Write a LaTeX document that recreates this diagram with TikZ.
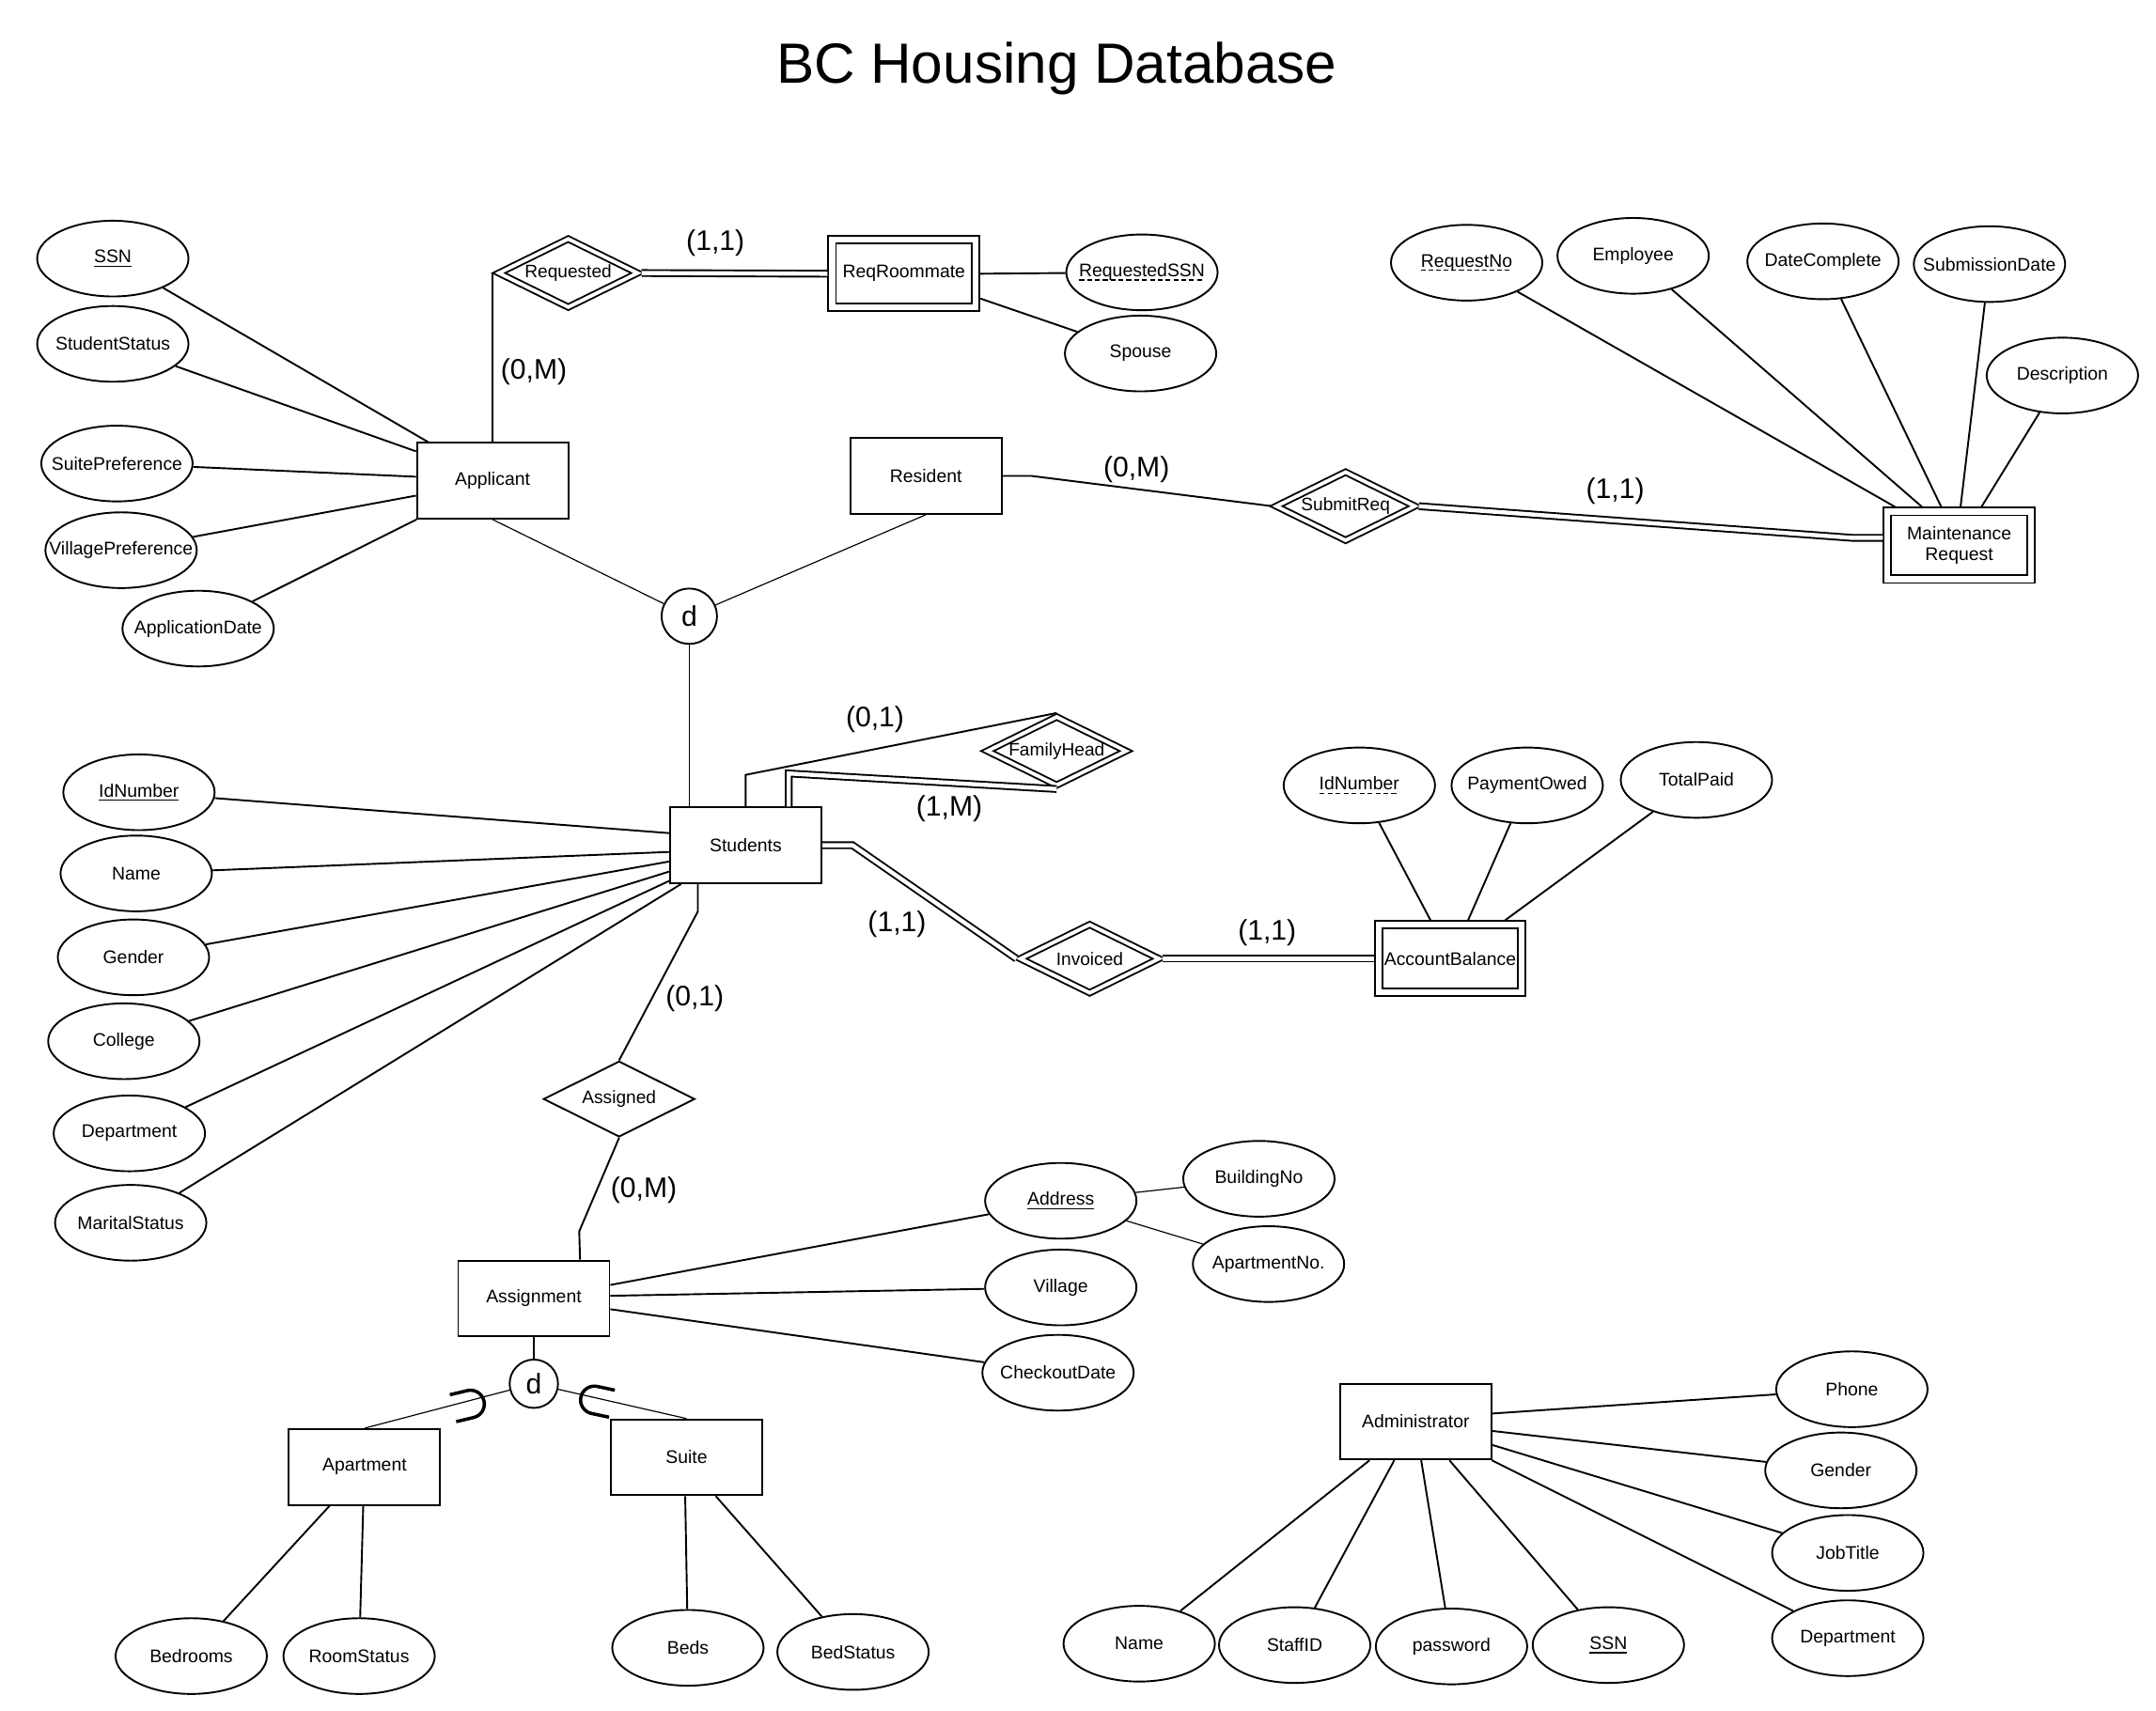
\documentclass[tikz,border=0pt]{standalone}
\usepackage{fontspec}
\setmainfont{Liberation Sans}
\usetikzlibrary{shapes.geometric}
\newcommand\attrsize{\fontsize{13.2}{15.5}\selectfont}
\newcommand\relsize{\fontsize{13}{15}\selectfont}
\newcommand\cardsize{\fontsize{20.5}{24}\selectfont}
\newcommand\A[1]{\makebox[0pt]{#1}}
\newcommand\keyul[1]{\setbox0=\hbox{#1}\rlap{\copy0}\raisebox{-2.8pt}{\vrule width\wd0 height 1pt depth 0pt}}
\newcommand\partul[1]{\setbox0=\hbox{#1}\rlap{\copy0}\raisebox{-2.8pt}{\hbox to\wd0{\xleaders\hbox to 5.5pt{\vrule width 3.5pt height 1pt depth 0pt\hss}\hfil}}}
\begin{document}
\begin{tikzpicture}[x=0.9955pt,y=-0.9955pt,line width=1.3pt,
  every node/.style={font=\attrsize},
  ent/.style={rectangle, draw, minimum width=109.5pt, minimum height=54.8pt, inner sep=0pt},
  went/.style={rectangle, draw, double, double distance=4.2pt, minimum width=103.8pt, minimum height=49pt, inner sep=0pt, outer sep=3.4pt},
  rel/.style={diamond, draw, aspect=2, minimum width=109.5pt, minimum height=54.8pt, inner sep=0pt, font=\relsize},
  wrel/.style={diamond, draw, aspect=2, double, double distance=2.6pt, minimum width=102pt, minimum height=51pt, inner sep=0pt, outer sep=2pt, font=\relsize},
  attr/.style={ellipse, draw, minimum width=109.5pt, minimum height=54.8pt, inner sep=0pt},
  spec/.style={circle, draw, inner sep=0pt, font=\cardsize},
  card/.style={font=\cardsize, inner sep=0pt},
  tot/.style={double, double distance=3pt},
  thin/.style={line width=0.8pt},
  subsym/.style={line width=2.4pt}]
\useasboundingbox (0pt,0pt) rectangle (1560pt,-1237.7pt);

\node[font=\fontsize{41}{49}\selectfont] (title) at (768,50) {BC Housing Database};

% ---------- Applicant ----------
\node[ent] (app) at (358,349.5) {Applicant};
\node[attr] (ssn) at (82,188) {\A{\keyul{SSN}}};
\node[attr] (sstat) at (82,250) {\A{StudentStatus}};
\node[attr] (spref) at (85,337) {\A{SuitePreference}};
\node[attr] (vpref) at (88,400) {\A{VillagePreference}};
\node[attr] (adate) at (144,457) {\A{ApplicationDate}};
\node[wrel] (req) at (413,198.5) {Requested};
\node[went] (rr) at (657,199) {ReqRoommate};
\node[attr] (rssn) at (830,198) {\A{\partul{RequestedSSN}}};
\node[attr] (spouse) at (829,257) {\A{Spouse}};

% ---------- Resident / Maintenance ----------
\node[ent] (res) at (673,346) {Resident};
\node[spec, minimum size=40pt] (d1) at (501,448) {d};
\node[wrel] (sr) at (978,368) {SubmitReq};
\node[went, align=center] (mr) at (1424,396.5) {Maintenance\\Request};
\node[attr] (reqno) at (1066,191) {\A{\partul{RequestNo}}};
\node[attr] (emp) at (1187,186) {\A{Employee}};
\node[attr] (dcomp) at (1325,190) {\A{DateComplete}};
\node[attr] (subd) at (1446,192) {\A{SubmissionDate}};
\node[attr] (desc) at (1499,273) {\A{Description}};

% ---------- Students ----------
\node[ent] (stu) at (542,614.5) {Students};
\node[wrel] (fh) at (768,546) {FamilyHead};
\node[wrel] (inv) at (792,697) {Invoiced};
\node[went] (ab) at (1054,697) {AccountBalance};
\node[attr] (abid) at (988,571) {\A{\partul{IdNumber}}};
\node[attr] (pay) at (1110,571) {\A{PaymentOwed}};
\node[attr] (tot) at (1233,567) {\A{TotalPaid}};
\node[attr] (sid) at (101,576) {\A{\keyul{IdNumber}}};
\node[attr] (sname) at (99,635) {\A{Name}};
\node[attr] (sgen) at (97,696) {\A{Gender}};
\node[attr] (scol) at (90,757) {\A{College}};
\node[attr] (sdep) at (94,824) {\A{Department}};
\node[attr] (smar) at (95,889) {\A{MaritalStatus}};

% ---------- Assignment ----------
\node[rel] (asg) at (450,799) {Assigned};
\node[ent] (asn) at (388,944) {Assignment};
\node[attr] (addr) at (771,873) {\A{\keyul{Address}}};
\node[attr] (vil) at (771,936) {\A{Village}};
\node[attr] (chk) at (769,998) {\A{CheckoutDate}};
\node[attr] (bno) at (915,857) {\A{BuildingNo}};
\node[attr] (ano) at (922,919) {\A{ApartmentNo.}};
\node[spec, minimum size=35pt] (d2) at (388,1006) {d};
\node[ent] (apt) at (265,1066.5) {Apartment};
\node[ent] (suite) at (499,1059.5) {Suite};
\node[attr] (bed) at (139,1204) {\A{Bedrooms}};
\node[attr] (rst) at (261,1204) {\A{RoomStatus}};
\node[attr] (beds) at (500,1198) {\A{Beds}};
\node[attr] (bst) at (620,1201) {\A{BedStatus}};

% ---------- Administrator ----------
\node[ent] (adm) at (1029,1033.5) {Administrator};
\node[attr] (phone) at (1346,1010) {\A{Phone}};
\node[attr] (agen) at (1338,1069) {\A{Gender}};
\node[attr] (job) at (1343,1129) {\A{JobTitle}};
\node[attr] (adep) at (1343,1191) {\A{Department}};
\node[attr] (aname) at (828,1195) {\A{Name}};
\node[attr] (staff) at (941,1196) {\A{StaffID}};
\node[attr] (pw) at (1055,1197) {\A{password}};
\node[attr] (assn) at (1169,1196) {\A{\keyul{SSN}}};

% ---------- cardinalities ----------
\node[card] (c1) at (520,177) {(1,1)};
\node[card] (c2) at (388,270) {(0,M)};
\node[card] (c3) at (826,341) {(0,M)};
\node[card] (c4) at (1174,357) {(1,1)};
\node[card] (c5) at (636,523) {(0,1)};
\node[card] (c6) at (690,588) {(1,M)};
\node[card] (c7) at (652,672) {(1,1)};
\node[card] (c8) at (921,678) {(1,1)};
\node[card] (c9) at (505,726) {(0,1)};
\node[card] (c10) at (468,865) {(0,M)};

% ---------- connectors: Applicant ----------
\draw (ssn) -- (app.149);
\draw (sstat) -- (app.159);
\draw (spref) -- (app.177);
\draw (vpref) -- (app.191);
\draw (adate) -- (app.207);
\draw (app.north) -- (app.north |- req.west) -- (req.west);
\draw[tot] (req.east) -- (rr.west);
\draw (rr.east) -- (rssn);
\draw (rr.342) -- (spouse);
\draw[thin] (app.south) -- (d1);
\draw[thin] (res.south) -- (d1);
\draw[thin] (d1) -- (d1 |- stu.north);

% ---------- Resident / Maintenance ----------
\draw (res.east) -- ++(21,0) -- (sr.west);
\coordinate (mrb) at (1346,391);
\draw[tot] (sr.east) -- (mrb) -- (mrb -| mr.west);
\draw (reqno) -- (mr.149);
\draw (emp) -- (mr.134);
\draw (dcomp) -- (mr.115);
\draw (subd) -- (mr.88);
\draw (desc) -- (mr.60);

% ---------- Students ----------
\draw (sid) -- (stu.171);
\draw (sname) -- (stu.185);
\draw (sgen) -- (stu.192);
\draw (scol) -- (stu.199);
\draw (sdep) -- (stu.205);
\draw (smar) -- (stu.211);
\draw (stu.north) -- ++(0,-23) -- (fh.north);
\draw[tot] (stu.42) -- ++(0,-24) -- (fh.south);
\draw[tot] (stu.east) -- ++(22,0) -- (inv.west);
\draw[tot] (inv.east) -- (ab.west);
\draw (abid) -- (ab.117);
\draw (pay) -- (ab.65);
\draw (tot) -- (ab.35);

% ---------- Assignment ----------
\draw (stu.219) -- ++(0,20) -- (asg.north);
\draw (asg.south) -- ++(-29,68) -- (asn.40);
\draw (asn.10) -- (addr);
\draw (asn.2) -- (vil);
\draw (asn.352) -- (chk);
\draw[thin] (addr) -- (bno);
\draw[thin] (addr) -- (ano);
\draw[thin] (asn.south) -- (d2);
\draw[thin] (d2) -- (apt.north);
\draw[thin] (d2) -- (suite.north);
\begin{scope}[shift={(341,1021)}, rotate=13.4]
  \draw[subsym] (-12pt,10pt) -- (1pt,10pt) arc[start angle=90, end angle=-90, radius=10pt] -- (-12pt,-10pt);
\end{scope}
\begin{scope}[shift={(433,1018)}, rotate=-12]
  \draw[subsym] (12pt,10pt) -- (-1pt,10pt) arc[start angle=90, end angle=270, radius=10pt] -- (12pt,-10pt);
\end{scope}
\draw (bed) -- (apt.228);
\draw (rst) -- (apt.268);
\draw (beds) -- (suite.268);
\draw (bst) -- (suite.307);

% ---------- Administrator ----------
\draw (phone) -- (adm.6);
\draw (agen) -- (adm.353);
\draw (job) -- (adm.343);
\draw (adep) -- (adm.333);
\draw (aname) -- (adm.220);
\draw (staff) -- (adm.241);
\draw (pw) -- (adm.278);
\draw (assn) -- (adm.311);
\end{tikzpicture}
\end{document}
